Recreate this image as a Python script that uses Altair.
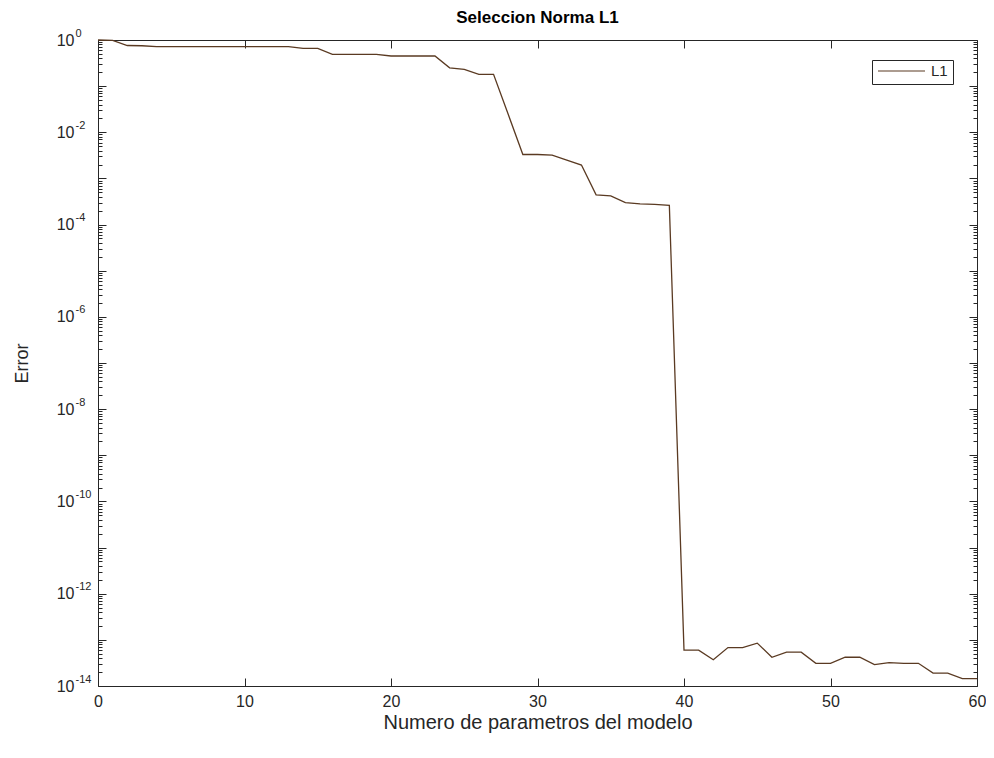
import altair as alt
import pandas as pd

# ---- data ----
series_names = ["L1"]
x_vals = list(range(61))
err_vals = [1.0, 0.98, 0.76, 0.75, 0.72, 0.72, 0.72, 0.72, 0.72, 0.72, 0.72, 0.72, 0.72, 0.72,
            0.66, 0.66, 0.49, 0.49, 0.49, 0.49, 0.45, 0.45, 0.45, 0.45, 0.25, 0.23, 0.18, 0.18,
            0.0245, 3.3e-3, 3.3e-3, 3.2e-3, 2.5e-3, 1.95e-3, 4.4e-4, 4.2e-4, 3.0e-4, 2.8e-4, 2.75e-4, 2.6e-4,
            6.0e-14, 6.0e-14, 3.7e-14, 6.8e-14, 6.8e-14, 8.5e-14, 4.2e-14, 5.4e-14, 5.4e-14, 3.1e-14, 3.1e-14,
            4.2e-14, 4.2e-14, 2.9e-14, 3.2e-14, 3.1e-14, 3.1e-14, 1.9e-14, 1.9e-14, 1.45e-14, 1.45e-14]
x_ticks = [0, 10, 20, 30, 40, 50, 60]
y_exponents = list(range(-14, 1))
y_labelled = [0, -2, -4, -6, -8, -10, -12, -14]
y_decades = [10.0 ** e for e in y_exponents]
y_minor = [k * 10.0 ** e for e in range(-14, 0) for k in range(2, 10)]

title_text = "Seleccion Norma L1"
x_title = "Numero de parametros del modelo"
y_title = "Error"

line_color = "#5a3a22"
axis_color = "#262626"
FONT = "Liberation Sans"

W, H = 879, 646

df = pd.DataFrame({"x": x_vals, "err": err_vals, "serie": [series_names[0]] * len(x_vals)})

expo = "round(log(datum.value)/LN10)"
base_expr = "".join(f"({expo} == {e}) ? '10' : " for e in y_labelled) + "''"
exp_expr = "".join(f"({expo} == {e}) ? '{e}' : " for e in y_labelled) + "''"

xs = alt.Scale(domain=[0, 60], nice=False, zero=False)
ys = alt.Scale(type="log", domain=[1e-14, 1], nice=False)

common_axis = dict(grid=False, domain=False, tickColor=axis_color, tickWidth=1)

main = alt.Chart(df).mark_line(strokeWidth=1.3).encode(
    x=alt.X("x:Q", scale=xs, axis=alt.Axis(
        orient="bottom", values=x_ticks, tickSize=8, offset=-8, labelPadding=7,
        labelFontSize=16, labelFont=FONT, labelColor=axis_color, labelFlush=False,
        format="d", title=x_title, titleFont=FONT, titleFontSize=20, titleFontWeight="normal",
        titleColor=axis_color, titleX=W / 2, titleY=44, titleBaseline="middle", **common_axis)),
    y=alt.Y("err:Q", scale=ys, axis=alt.Axis(
        orient="left", values=y_decades, tickSize=8, offset=-8, labelPadding=24,
        labelExpr=base_expr, labelFontSize=16, labelFont=FONT, labelColor=axis_color,
        labelOverlap=False, labelFlush=False, labelAlign="right", labelBaseline="middle",
        title=y_title, titleFont=FONT, titleFontSize=18, titleFontWeight="normal",
        titleColor=axis_color, titleX=-84, titleY=H / 2, titleBaseline="middle", **common_axis)),
    color=alt.Color("serie:N", scale=alt.Scale(domain=series_names, range=[line_color]),
                    legend=alt.Legend(orient="none", legendX=774, legendY=20, title=None,
                                      symbolType="stroke", symbolSize=2209, symbolStrokeWidth=1.2,
                                      clipHeight=12, padding=5, strokeColor=axis_color,
                                      fillColor="white", labelFontSize=15, labelFont=FONT,
                                      labelColor=axis_color, labelOffset=5)),
)

exponents = alt.Chart(df).mark_line(opacity=0).encode(
    x=alt.X("x:Q", scale=xs, axis=None),
    y=alt.Y("err:Q", scale=ys, axis=alt.Axis(
        orient="left", values=y_decades, tickSize=0, offset=0, labelPadding=23,
        labelExpr=exp_expr, labelFontSize=11, labelFont=FONT, labelColor=axis_color,
        labelOverlap=False, labelFlush=False, labelAlign="left", labelBaseline="middle",
        labelOffset=-7, title=None, **common_axis)),
)

box = alt.Chart(df).mark_line(opacity=0).encode(
    x=alt.X("x:Q", scale=xs, axis=alt.Axis(orient="top", values=x_ticks, tickSize=8, offset=-8,
                                           labels=False, title=None, minExtent=0, maxExtent=8,
                                           **common_axis)),
    y=alt.Y("err:Q", scale=ys, axis=alt.Axis(orient="right", values=y_decades, tickSize=8,
                                             offset=-8, labels=False, title=None, **common_axis)),
)

minor_left = alt.Chart(df).mark_line(opacity=0).encode(
    x=alt.X("x:Q", scale=xs, axis=None),
    y=alt.Y("err:Q", scale=ys, axis=alt.Axis(orient="left", values=y_minor, tickSize=4,
                                             offset=-4, labels=False, title=None, **common_axis)),
)

minor_right = alt.Chart(df).mark_line(opacity=0).encode(
    x=alt.X("x:Q", scale=xs, axis=None),
    y=alt.Y("err:Q", scale=ys, axis=alt.Axis(orient="right", values=y_minor, tickSize=4,
                                             offset=-4, labels=False, title=None, **common_axis)),
)

title_df = pd.DataFrame({"t": [title_text]})
title_mark = alt.Chart(title_df).mark_text(
    font=FONT, fontSize=17, fontWeight="bold", color="#000000",
    align="center", baseline="bottom"
).encode(text="t:N", x=alt.value(W / 2), y=alt.value(-13))

chart = alt.layer(main, exponents, box, minor_left, minor_right, title_mark).resolve_scale(
    x="independent", y="independent"
).properties(
    width=W, height=H,
    autosize=alt.AutoSizeParams(type="none"),
    padding={"left": 90, "top": 32, "right": 9, "bottom": 62},
    background="white",
).configure_view(stroke=axis_color, strokeWidth=1)

chart.save("out.html", embed_options={"renderer": "svg", "actions": False})
